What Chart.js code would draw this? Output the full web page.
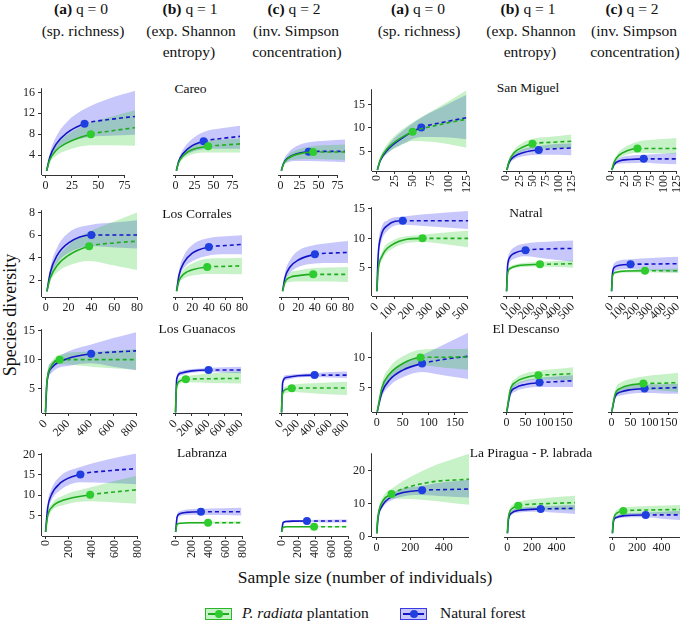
<!DOCTYPE html>
<html>
<head>
<meta charset="utf-8">
<script src="https://cdn.jsdelivr.net/npm/chart.js@4.4.1/dist/chart.umd.min.js"></script>
<style>
body { margin: 0; background: #fff; }
#wrap { position: relative; width: 685px; height: 623px; overflow: hidden; font-family: "Liberation Serif", "Times New Roman", Times, "DejaVu Serif", serif; color: #111; }
.t { position: absolute; transform: translate(-50%, -50%); white-space: nowrap; }
.hd { font-size: 15.5px; }
.site { font-size: 13.5px; }
canvas { position: absolute; }
.key { position: absolute; width: 25px; height: 10px; }
.key i { position: absolute; left: 2px; right: 2px; top: 4px; height: 2px; }
.key b { position: absolute; left: 8.5px; top: 1px; width: 8px; height: 8px; border-radius: 50%; }
</style>
</head>
<body>
<div id="wrap">
  <div class="t hd" style="left:81px;top:9px"><b>(a)</b> q = 0</div>
  <div class="t hd" style="left:83px;top:31px">(sp. richness)</div>
  <div class="t hd" style="left:190px;top:9px"><b>(b)</b> q = 1</div>
  <div class="t hd" style="left:191px;top:31px">(exp. Shannon</div>
  <div class="t hd" style="left:189px;top:52px">entropy)</div>
  <div class="t hd" style="left:294px;top:9px"><b>(c)</b> q = 2</div>
  <div class="t hd" style="left:296px;top:31px">(inv. Simpson</div>
  <div class="t hd" style="left:297px;top:52px">concentration)</div>

  <div class="t hd" style="left:418px;top:9px"><b>(a)</b> q = 0</div>
  <div class="t hd" style="left:419px;top:31px">(sp. richness)</div>
  <div class="t hd" style="left:528px;top:9px"><b>(b)</b> q = 1</div>
  <div class="t hd" style="left:531px;top:31px">(exp. Shannon</div>
  <div class="t hd" style="left:530px;top:52px">entropy)</div>
  <div class="t hd" style="left:632px;top:9px"><b>(c)</b> q = 2</div>
  <div class="t hd" style="left:634px;top:31px">(inv. Simpson</div>
  <div class="t hd" style="left:635px;top:52px">concentration)</div>

  <div class="t" style="left:10px;top:315px;font-size:18px;transform:translate(-50%,-50%) rotate(-90deg)">Species diversity</div>
  <div class="t" style="left:365px;top:577px;font-size:17.5px">Sample size (number of individuals)</div>

  <div class="key" style="left:205px;top:608px;background:rgba(0,190,0,.22);border:1px solid #2bb52b"><i style="background:#1fad1f"></i><b style="background:#2ecc2e"></b></div>
  <div class="t" style="left:242px;top:613px;font-size:15.5px;transform:translate(0,-50%)"><i>P. radiata</i> plantation</div>
  <div class="key" style="left:400px;top:608px;background:rgba(0,0,235,.22);border:1px solid #3a3ae0"><i style="background:#1515c8"></i><b style="background:#1f3fe0"></b></div>
  <div class="t" style="left:440px;top:613px;font-size:15.5px;transform:translate(0,-50%)">Natural forest</div>
</div>
<script>
// index 4 of every x array is the observed sample (end of the solid curve)
// rows of the value arrays: q = 0, q = 1, q = 2

// Careo
const careoGreenX = [1, 4, 10, 20, 43, 65, 85];
const careoGreenMean = [[1, 3.1, 4.9, 6.3, 8.0, 8.7, 9.25], [1, 2.5, 3.8, 4.8, 5.55, 5.8, 6.0], [1, 2.3, 3.3, 4.0, 4.5, 4.5, 4.5]];
const careoGreenLow = [[1, 2.6, 3.9, 4.9, 5.9, 5.9, 5.8], [1, 2.2, 3.2, 4.0, 4.4, 4.4, 4.4], [1, 2.0, 2.8, 3.1, 3.2, 3.1, 3.0]];
const careoGreenHigh = [[1, 3.6, 5.9, 7.8, 10.2, 11.5, 12.6], [1, 2.8, 4.4, 5.7, 6.6, 6.8, 7.0], [1, 2.6, 3.9, 4.8, 5.6, 5.8, 5.9]];
const careoBlueX = [1, 4, 10, 20, 37, 60, 85];
const careoBlueMean = [[1, 3.6, 6.1, 8.2, 10, 10.8, 11.4], [1, 2.7, 4.2, 5.5, 6.5, 7.0, 7.4], [1, 2.4, 3.4, 4.1, 4.55, 4.6, 4.6]];
const careoBlueLow = [[1, 3.0, 4.8, 6.2, 7.3, 7.7, 7.9], [1, 2.3, 3.5, 4.4, 5.0, 5.1, 5.1], [1, 2.0, 2.6, 2.8, 2.8, 2.7, 2.6]];
const careoBlueHigh = [[1, 4.3, 7.5, 10.3, 12.8, 14.8, 16.3], [1, 3.1, 5.0, 6.7, 8.2, 8.9, 9.4], [1, 2.9, 4.3, 5.5, 6.3, 6.6, 6.8]];
const careoXTicks = [0, 25, 50, 75];
const careoYTicks = [4, 8, 12, 16];

// San Miguel
const sanMiguelGreenX = [1, 5, 15, 30, 50, 90, 125];
const sanMiguelGreenMean = [[1, 3.2, 5.6, 7.5, 9.2, 10.8, 11.9], [1, 2.8, 4.6, 5.7, 6.46, 6.8, 7.0], [1, 2.6, 4.1, 5.0, 5.5, 5.5, 5.5]];
const sanMiguelGreenLow = [[1, 2.8, 4.6, 6.0, 7.2, 6.8, 5.8], [1, 2.5, 3.9, 4.8, 5.4, 5.5, 5.6], [1, 2.3, 3.5, 4.2, 4.6, 4.5, 4.4]];
const sanMiguelGreenHigh = [[1, 3.7, 6.6, 9.0, 11.2, 14.8, 18.1], [1, 3.1, 5.2, 6.6, 7.5, 8.0, 8.4], [1, 2.9, 4.8, 6.0, 6.9, 7.4, 7.7]];
const sanMiguelBlueX = [1, 5, 15, 35, 62, 95, 125];
const sanMiguelBlueMean = [[1, 3.0, 5.3, 7.8, 10.1, 11.3, 12.2], [1, 2.5, 3.8, 4.7, 5.2, 5.45, 5.6], [1, 2.1, 2.9, 3.2, 3.33, 3.33, 3.33]];
const sanMiguelBlueLow = [[1, 2.6, 4.6, 6.5, 8.1, 8.0, 7.6], [1, 2.2, 3.2, 3.9, 4.2, 4.2, 4.1], [1, 1.8, 2.3, 2.4, 2.5, 2.3, 2.2]];
const sanMiguelBlueHigh = [[1, 3.4, 6.1, 9.2, 12.2, 14.8, 17.1], [1, 2.8, 4.4, 5.5, 6.0, 6.4, 6.6], [1, 2.4, 3.5, 4.0, 4.2, 4.4, 4.6]];
const sanMiguelXTicks = [0, 25, 50, 75, 100, 125];
const sanMiguelYTicks = [5, 10, 15];

// Los Corrales
const corralesGreenX = [1, 4, 10, 20, 38, 60, 80];
const corralesGreenMean = [[1, 2.2, 3.3, 4.2, 5.0, 5.3, 5.45], [1, 1.9, 2.5, 2.85, 3.1, 3.15, 3.2], [1, 1.8, 2.2, 2.35, 2.46, 2.46, 2.46]];
const corralesGreenLow = [[1, 1.9, 2.7, 3.3, 3.7, 3.3, 2.9], [1, 1.7, 2.1, 2.35, 2.5, 2.5, 2.46], [1, 1.6, 1.8, 1.85, 1.85, 1.85, 1.8]];
const corralesGreenHigh = [[1, 2.5, 3.9, 5.1, 6.3, 7.2, 8.0], [1, 2.1, 2.9, 3.4, 3.8, 3.85, 3.9], [1, 2.0, 2.6, 2.8, 3.0, 3.05, 3.1]];
const corralesBlueX = [1, 4, 10, 20, 40, 60, 80];
const corralesBlueMean = [[1, 2.7, 4.2, 5.3, 6.0, 6.0, 6.0], [1, 2.4, 3.5, 4.3, 4.83, 4.95, 5.05], [1, 2.2, 3.1, 3.7, 4.19, 4.3, 4.35]];
const corralesBlueLow = [[1, 2.3, 3.5, 4.4, 5.0, 4.9, 4.8], [1, 2.1, 3.0, 3.6, 4.1, 4.2, 4.2], [1, 1.9, 2.6, 3.1, 3.4, 3.45, 3.45]];
const corralesBlueHigh = [[1, 3.1, 4.9, 6.2, 6.9, 7.1, 7.3], [1, 2.8, 4.1, 5.0, 5.6, 5.75, 5.84], [1, 2.6, 3.7, 4.5, 5.0, 5.2, 5.35]];
const corralesXTicks = [0, 20, 40, 60, 80];
const corralesYTicks = [2, 4, 6, 8];

// Natral
const natralGreenX = [1, 8, 30, 80, 253, 380, 505];
const natralGreenMean = [[1, 4.5, 7.0, 8.8, 10.0, 10.0, 10.0], [1, 3.8, 4.8, 5.2, 5.45, 5.5, 5.56], [1, 3.5, 4.1, 4.3, 4.38, 4.38, 4.38]];
const natralGreenLow = [[1, 4.0, 6.3, 8.1, 9.4, 9.0, 8.5], [1, 3.5, 4.5, 4.9, 5.1, 5.0, 4.9], [1, 3.3, 3.9, 4.05, 4.1, 4.05, 4.0]];
const natralGreenHigh = [[1, 5.0, 7.7, 9.5, 10.6, 11.0, 11.3], [1, 4.1, 5.1, 5.5, 5.85, 6.0, 6.1], [1, 3.7, 4.3, 4.5, 4.65, 4.7, 4.75]];
const natralBlueX = [1, 8, 25, 60, 144, 300, 505];
const natralBlueMean = [[1, 7.0, 10.5, 12.2, 13.0, 13.0, 13.0], [1, 5.0, 6.6, 7.3, 7.8, 8.0, 8.1], [1, 4.0, 5.0, 5.3, 5.45, 5.5, 5.56]];
const natralBlueLow = [[1, 6.0, 9.3, 11.3, 12.3, 12.0, 11.6], [1, 4.4, 5.8, 6.4, 6.8, 6.4, 5.9], [1, 3.5, 4.3, 4.6, 4.7, 4.4, 4.16]];
const natralBlueHigh = [[1, 8.0, 11.7, 13.1, 13.7, 14.2, 14.66], [1, 5.6, 7.4, 8.3, 8.9, 9.2, 9.4], [1, 4.5, 5.7, 6.1, 6.3, 6.5, 6.7]];
const natralXTicks = [0, 100, 200, 300, 400, 500];
const natralYTicks = [5, 10, 15];

// Los Guanacos
const guanacosGreenX = [1, 5, 15, 50, 126, 450, 800];
const guanacosGreenMean = [[1, 3.5, 6.5, 8.8, 10.0, 10.0, 10.0], [1, 3.2, 5.3, 6.2, 6.5, 6.6, 6.67], [1, 2.8, 4.2, 4.8, 5.0, 5.05, 5.05]];
const guanacosGreenLow = [[1, 3.0, 5.5, 8.0, 9.2, 8.7, 8.3], [1, 2.9, 4.8, 5.7, 6.0, 5.9, 5.8], [1, 2.5, 3.7, 4.2, 4.4, 4.1, 3.9]];
const guanacosGreenHigh = [[1, 4.0, 7.5, 9.6, 10.9, 11.4, 11.8], [1, 3.5, 5.8, 6.7, 7.0, 7.5, 7.8], [1, 3.1, 4.7, 5.3, 5.6, 5.9, 6.1]];
const guanacosBlueX = [1, 15, 60, 200, 404, 600, 800];
const guanacosBlueMean = [[1, 6.3, 8.7, 10.2, 11.0, 11.3, 11.5], [1, 6.5, 7.5, 7.9, 8.05, 8.05, 8.05], [1, 6.0, 6.8, 7.1, 7.2, 7.2, 7.2]];
const guanacosBlueLow = [[1, 5.3, 7.8, 8.9, 9.4, 8.8, 8.2], [1, 6.0, 7.1, 7.6, 7.7, 7.6, 7.5], [1, 5.5, 6.4, 6.8, 6.9, 6.8, 6.7]];
const guanacosBlueHigh = [[1, 7.3, 9.6, 11.4, 12.6, 13.7, 14.7], [1, 7.0, 7.9, 8.2, 8.4, 8.5, 8.6], [1, 6.5, 7.2, 7.4, 7.5, 7.7, 7.8]];
const guanacosXTicks = [0, 200, 400, 600, 800];
const guanacosYTicks = [5, 10, 15];

// El Descanso
const descansoGreenX = [1, 10, 25, 50, 84, 130, 175];
const descansoGreenMean = [[1, 5.0, 7.3, 9.0, 10.0, 10.05, 10.1], [1, 4.5, 5.8, 6.5, 6.88, 7.0, 7.15], [1, 3.9, 4.8, 5.3, 5.54, 5.6, 5.7]];
const descansoGreenLow = [[1, 4.1, 6.2, 7.8, 8.7, 8.3, 7.96], [1, 4.0, 5.2, 5.9, 6.2, 6.15, 6.1], [1, 3.3, 4.0, 4.4, 4.6, 4.4, 4.2]];
const descansoGreenHigh = [[1, 5.8, 8.4, 10.2, 11.3, 11.4, 11.45], [1, 5.0, 6.4, 7.2, 7.6, 7.9, 8.2], [1, 4.5, 5.7, 6.3, 6.7, 7.0, 7.3]];
const descansoBlueX = [1, 10, 25, 50, 87, 130, 175];
const descansoBlueMean = [[1, 4.2, 6.3, 7.9, 9.0, 9.7, 10.2], [1, 3.9, 4.9, 5.4, 5.7, 5.85, 6.0], [1, 3.5, 4.2, 4.55, 4.73, 4.8, 4.9]];
const descansoBlueLow = [[1, 3.5, 5.3, 6.7, 7.6, 7.0, 6.45], [1, 3.4, 4.3, 4.8, 5.0, 5.0, 5.0], [1, 3.1, 3.6, 3.9, 4.0, 3.95, 3.9]];
const descansoBlueHigh = [[1, 4.9, 7.3, 9.1, 10.4, 12.2, 14.1], [1, 4.4, 5.5, 6.1, 6.5, 6.7, 6.9], [1, 3.9, 4.8, 5.2, 5.4, 5.45, 5.5]];
const descansoXTicks = [0, 50, 100, 150];
const descansoYTicks = [5, 10];

// Labranza
const labranzaGreenX = [1, 20, 60, 160, 388, 600, 786];
const labranzaGreenMean = [[1, 5.0, 7.2, 8.8, 10.1, 10.8, 11.3], [1, 2.8, 3.05, 3.15, 3.17, 3.17, 3.17], [1, 2.1, 2.2, 2.22, 2.22, 2.22, 2.22]];
const labranzaGreenLow = [[1, 4.2, 6.3, 7.6, 8.5, 8.2, 7.9], [1, 2.6, 2.85, 2.95, 2.95, 2.92, 2.9], [1, 2.0, 2.08, 2.1, 2.08, 2.05, 2.0]];
const labranzaGreenHigh = [[1, 5.8, 8.1, 10.0, 11.9, 13.5, 14.7], [1, 3.0, 3.25, 3.35, 3.4, 3.45, 3.5], [1, 2.2, 2.32, 2.35, 2.38, 2.4, 2.42]];
const labranzaBlueX = [1, 20, 50, 130, 303, 550, 786];
const labranzaBlueMean = [[1, 7.0, 10.0, 13.0, 15.1, 16.0, 16.5], [1, 4.6, 5.3, 5.65, 5.8, 5.8, 5.8], [1, 3.2, 3.45, 3.55, 3.57, 3.57, 3.57]];
const labranzaBlueLow = [[1, 5.8, 8.6, 11.3, 13.2, 13.0, 12.7], [1, 4.0, 4.7, 5.0, 5.1, 5.0, 4.9], [1, 3.0, 3.25, 3.3, 3.3, 3.25, 3.2]];
const labranzaBlueHigh = [[1, 8.2, 11.4, 14.7, 16.9, 18.8, 20.2], [1, 5.2, 5.9, 6.3, 6.5, 6.65, 6.75], [1, 3.4, 3.7, 3.8, 3.85, 3.9, 3.95]];
const labranzaXTicks = [0, 200, 400, 600, 800];
const labranzaYTicks = [5, 10, 15, 20];

// La Piragua - P. labrada
const piraguaGreenX = [1, 5, 15, 40, 89, 300, 550];
const piraguaGreenMean = [[1, 4.5, 8.0, 11.0, 12.9, 16.3, 17.35], [1, 4.2, 6.8, 8.3, 9.1, 9.7, 10.0], [1, 3.8, 5.8, 7.0, 7.55, 7.85, 8.0]];
const piraguaGreenLow = [[1, 3.9, 7.0, 9.7, 11.5, 11.0, 9.6], [1, 3.7, 6.0, 7.3, 7.9, 7.85, 7.8], [1, 3.3, 5.1, 6.1, 6.6, 6.7, 6.7]];
const piraguaGreenHigh = [[1, 5.1, 9.0, 12.3, 14.5, 20.5, 25.0], [1, 4.7, 7.6, 9.3, 10.2, 11.3, 12.0], [1, 4.3, 6.5, 7.9, 8.5, 9.0, 9.3]];
const piraguaBlueX = [1, 10, 30, 100, 271, 400, 550];
const piraguaBlueMean = [[1, 6.0, 9.0, 12.3, 14.0, 14.2, 14.4], [1, 5.2, 6.8, 7.8, 8.14, 8.25, 8.33], [1, 4.6, 5.6, 6.2, 6.37, 6.4, 6.4]];
const piraguaBlueLow = [[1, 5.4, 8.2, 11.2, 12.6, 12.2, 11.8], [1, 4.7, 6.2, 7.1, 7.3, 7.0, 6.7], [1, 4.2, 5.1, 5.6, 5.7, 5.3, 4.9]];
const piraguaBlueHigh = [[1, 6.6, 9.8, 13.4, 15.4, 16.4, 17.2], [1, 5.7, 7.4, 8.5, 8.9, 9.1, 9.3], [1, 5.0, 6.1, 6.8, 7.0, 7.3, 7.6]];
const piraguaXTicks = [0, 200, 400];
const piraguaYTicks = [0, 5, 10, 15, 20, 25];

const OBS = 4;
const FONT = '"Liberation Serif", "Times New Roman", Times, "DejaVu Serif", serif';
const GREEN_LINE = '#1fad1f', GREEN_DOT = '#2ecc2e', GREEN_BAND = 'rgba(0, 190, 0, 0.22)';
const BLUE_LINE = '#1515c8', BLUE_DOT = '#1f3fe0', BLUE_BAND = 'rgba(0, 0, 235, 0.22)';
const AXIS = '#333';
const PADL = 14, PADR = 14, PADT = 8, YW = 26, XH = 34;

// site list: data + where each row of panels sits on the page
const sites = [
  { name: 'Careo', gx: careoGreenX, gm: careoGreenMean, gl: careoGreenLow, gh: careoGreenHigh,
    bx: careoBlueX, bm: careoBlueMean, bl: careoBlueLow, bh: careoBlueHigh, xt: careoXTicks, yt: careoYTicks,
    top: 85.8, bottom: 174.3, lefts: [42.1, 147.1, 252.4], width: 93.4, xMin: -3.4, xMax: 85, yMin: 0.2, yMax: 16.8, rot: 0, xEnd: 75, tx: 190.5, ty: 88.5 },
  { name: 'San Miguel', gx: sanMiguelGreenX, gm: sanMiguelGreenMean, gl: sanMiguelGreenLow, gh: sanMiguelGreenHigh,
    bx: sanMiguelBlueX, bm: sanMiguelBlueMean, bl: sanMiguelBlueLow, bh: sanMiguelBlueHigh, xt: sanMiguelXTicks, yt: sanMiguelYTicks,
    top: 87.2, bottom: 171.2, lefts: [372, 477.3, 582.3], width: 95.9, xMin: -6.4, xMax: 125, yMin: 0.8, yMax: 18.3, rot: 90, xEnd: 125, tx: 528, ty: 88 },
  { name: 'Los Corrales', gx: corralesGreenX, gm: corralesGreenMean, gl: corralesGreenLow, gh: corralesGreenHigh,
    bx: corralesBlueX, bm: corralesBlueMean, bl: corralesBlueLow, bh: corralesBlueHigh, xt: corralesXTicks, yt: corralesYTicks,
    top: 207.7, bottom: 296.3, lefts: [42, 147, 253], width: 94.75, xMin: -3.3, xMax: 80, yMin: 0.5, yMax: 8.2, rot: 0, xEnd: 80, tx: 197, ty: 214 },
  { name: 'Natral', gx: natralGreenX, gm: natralGreenMean, gl: natralGreenLow, gh: natralGreenHigh,
    bx: natralBlueX, bm: natralBlueMean, bl: natralBlueLow, bh: natralBlueHigh, xt: natralXTicks, yt: natralYTicks,
    top: 205.2, bottom: 295.8, lefts: [372, 477.3, 582.3], width: 96.5, xMin: -26, xMax: 510, yMin: 0.2, yMax: 15.3, rot: 45, xEnd: 500, tx: 526, ty: 213 },
  { name: 'Los Guanacos', gx: guanacosGreenX, gm: guanacosGreenMean, gl: guanacosGreenLow, gh: guanacosGreenHigh,
    bx: guanacosBlueX, bm: guanacosBlueMean, bl: guanacosBlueLow, bh: guanacosBlueHigh, xt: guanacosXTicks, yt: guanacosYTicks,
    top: 326.8, bottom: 412.6, lefts: [42.3, 147.3, 253.3], width: 94.4, xMin: -30, xMax: 800, yMin: 0.9, yMax: 15.2, rot: 45, xEnd: 800, tx: 197, ty: 329 },
  { name: 'El Descanso', gx: descansoGreenX, gm: descansoGreenMean, gl: descansoGreenLow, gh: descansoGreenHigh,
    bx: descansoBlueX, bm: descansoBlueMean, bl: descansoBlueLow, bh: descansoBlueHigh, xt: descansoXTicks, yt: descansoYTicks,
    top: 329.7, bottom: 411.8, lefts: [372, 477.3, 582.3], width: 96, xMin: -9, xMax: 175, yMin: 0.95, yMax: 14.2, rot: 0, xEnd: 175, tx: 526, ty: 329 },
  { name: 'Labranza', gx: labranzaGreenX, gm: labranzaGreenMean, gl: labranzaGreenLow, gh: labranzaGreenHigh,
    bx: labranzaBlueX, bm: labranzaBlueMean, bl: labranzaBlueLow, bh: labranzaBlueHigh, xt: labranzaXTicks, yt: labranzaYTicks,
    top: 451.4, bottom: 536.7, lefts: [42.2, 147.2, 253.2], width: 96.8, xMin: -30, xMax: 800, yMin: 0, yMax: 20.3, rot: 90, xEnd: 800, tx: 202, ty: 453 },
  { name: 'La Piragua - P. labrada', gx: piraguaGreenX, gm: piraguaGreenMean, gl: piraguaGreenLow, gh: piraguaGreenHigh,
    bx: piraguaBlueX, bm: piraguaBlueMean, bl: piraguaBlueLow, bh: piraguaBlueHigh, xt: piraguaXTicks, yt: piraguaYTicks,
    top: 451, bottom: 537, lefts: [372.2, 477.5, 582.5], width: 96.9, xMin: -27, xMax: 550, yMin: -0.1, yMax: 25.2, rot: 0, xEnd: 550, tx: 531, ty: 453 }
];

// draws the x axis line (capped at xEnd) and the y axis line on the first panel
const axisLines = {
  id: 'axisLines',
  afterDraw(chart, args, opts) {
    const { ctx, chartArea: a, scales } = chart;
    ctx.save();
    ctx.strokeStyle = AXIS;
    ctx.lineWidth = 1;
    ctx.beginPath();
    ctx.moveTo(a.left, a.bottom + 0.5);
    ctx.lineTo(scales.x.getPixelForValue(opts.xEnd), a.bottom + 0.5);
    if (opts.yLine) {
      ctx.moveTo(a.left - 0.5, a.top);
      ctx.lineTo(a.left - 0.5, a.bottom);
    }
    ctx.stroke();
    ctx.restore();
  }
};

const pts = (xs, ys) => xs.map((x, i) => ({ x: x, y: ys[i] }));

function meanSet(xs, ys, line, dot) {
  return {
    data: pts(xs, ys), borderColor: line, borderWidth: 1.6, fill: false,
    cubicInterpolationMode: 'monotone',
    pointRadius: xs.map((_, i) => i === OBS ? 4 : 0),
    pointBackgroundColor: dot, pointBorderWidth: 0,
    segment: { borderDash: c => c.p0DataIndex >= OBS ? [4, 3] : undefined }
  };
}

function bandSet(xs, ys, colour, fill) {
  return {
    data: pts(xs, ys), borderWidth: 0, borderColor: 'rgba(0,0,0,0)', pointRadius: 0,
    cubicInterpolationMode: 'monotone', backgroundColor: colour, fill: fill
  };
}

const wrap = document.getElementById('wrap');

function addTitle(s) {
  const d = document.createElement('div');
  d.className = 't site';
  d.style.left = s.tx + 'px';
  d.style.top = s.ty + 'px';
  d.textContent = s.name;
  wrap.appendChild(d);
}

function makePanel(s, q) {
  const first = q === 0;
  const yw = first ? YW : 0;
  const cv = document.createElement('canvas');
  const plotH = s.bottom - s.top;
  cv.width = Math.round(PADL + yw + s.width + PADR);
  cv.height = Math.round(PADT + plotH + XH);
  cv.style.left = Math.round(s.lefts[q] - PADL - yw) + 'px';
  cv.style.top = Math.round(s.top - PADT) + 'px';
  wrap.appendChild(cv);

  const tickFont = { family: FONT, size: 12 };
  // first dataset is drawn last: green line on top, green band over the blue one
  new Chart(cv, {
    type: 'line',
    data: {
      datasets: [
        meanSet(s.gx, s.gm[q], GREEN_LINE, GREEN_DOT),
        meanSet(s.bx, s.bm[q], BLUE_LINE, BLUE_DOT),
        bandSet(s.gx, s.gl[q], GREEN_BAND, false),
        bandSet(s.gx, s.gh[q], GREEN_BAND, '-1'),
        bandSet(s.bx, s.bl[q], BLUE_BAND, false),
        bandSet(s.bx, s.bh[q], BLUE_BAND, '-1')
      ]
    },
    options: {
      responsive: false,
      animation: false,
      devicePixelRatio: 1,
      layout: { padding: { left: PADL, right: PADR, top: PADT, bottom: 0 } },
      plugins: {
        legend: { display: false },
        tooltip: { enabled: false },
        axisLines: { xEnd: s.xEnd, yLine: first }
      },
      scales: {
        x: {
          type: 'linear', min: s.xMin, max: s.xMax,
          afterBuildTicks: a => { a.ticks = s.xt.map(v => ({ value: v })); },
          afterFit: a => { a.height = XH; },
          grid: { display: true, drawOnChartArea: false, drawTicks: true, tickLength: 3, color: AXIS },
          border: { display: false },
          ticks: { autoSkip: false, minRotation: s.rot, maxRotation: s.rot, padding: 1, color: '#222', font: tickFont }
        },
        y: {
          type: 'linear', min: s.yMin, max: s.yMax, display: first,
          afterBuildTicks: a => { a.ticks = s.yt.map(v => ({ value: v })); },
          afterFit: a => { a.width = YW; },
          grid: { display: true, drawOnChartArea: false, drawTicks: true, tickLength: 4, color: AXIS },
          border: { display: false },
          ticks: { padding: 3, color: '#222', font: tickFont }
        }
      }
    },
    plugins: [axisLines]
  });
}

sites.forEach(s => {
  addTitle(s);
  for (let q = 0; q < 3; q++) makePanel(s, q);
});
</script>
</body>
</html>
